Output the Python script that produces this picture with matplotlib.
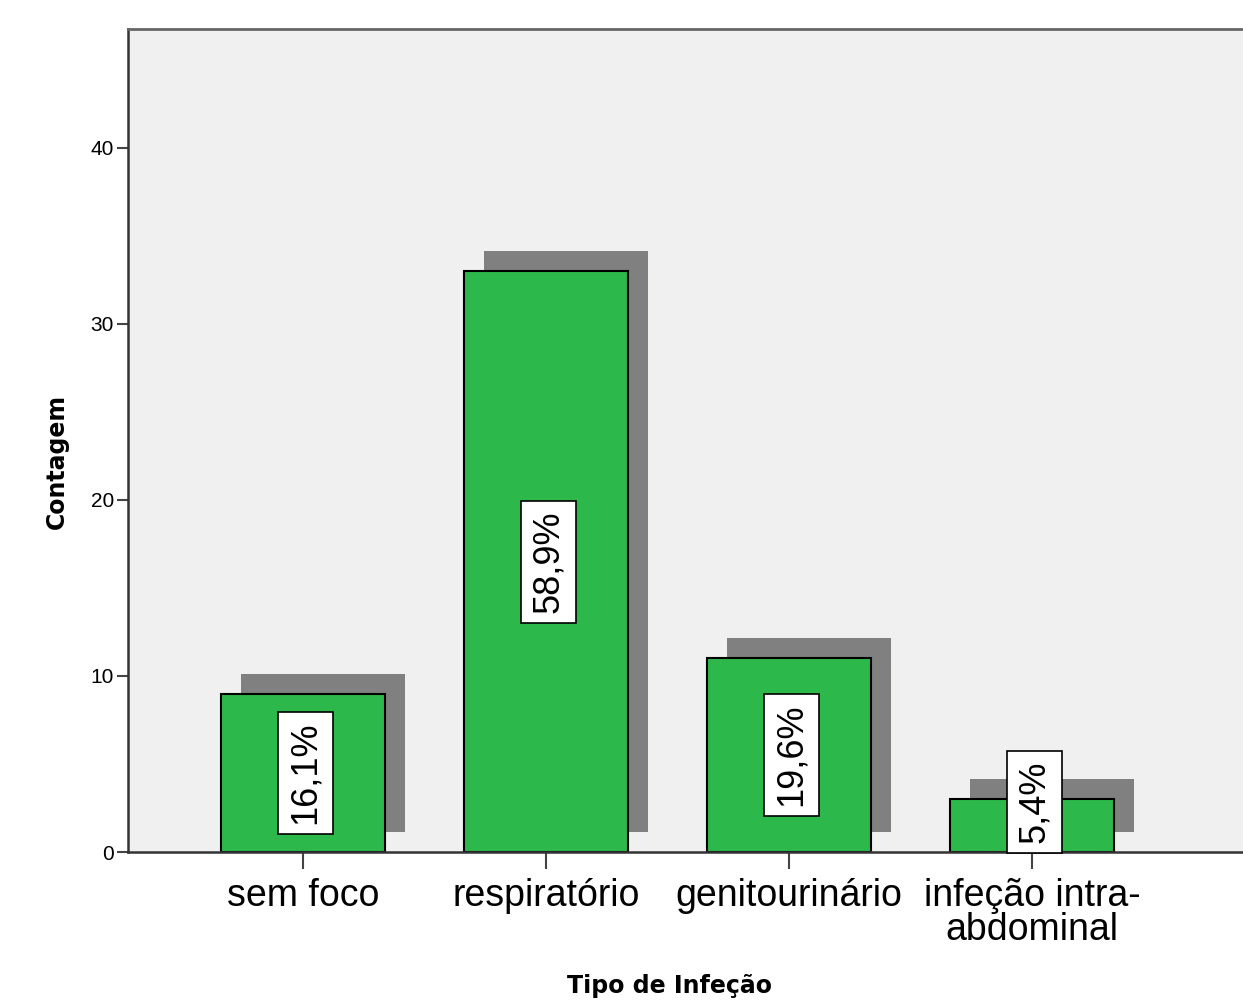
import matplotlib.pyplot as plt
import numpy as np

# dados: tipo de infeção e contagem
categorias = ['sem foco', 'respiratório', 'genitourinário', 'infeção intra-\nabdominal']
contagem = [9, 33, 11, 3]
percentagens = ['16,1%', '58,9%', '19,6%', '5,4%']

verde = '#2db84b'
sombra = '#808080'
fundo = '#f0f0f0'
fonte = 'Liberation Sans'

fig = plt.figure(figsize=(12.43, 10), dpi=100)
ax = fig.add_axes([128 / 1243, 148 / 1000, 1130 / 1243, 823 / 1000])
ax.set_facecolor(fundo)

x = np.arange(len(categorias))
largura = 0.672
dx, dy = 0.0825, 1.14  # deslocamento da sombra

# sombra atrás de cada barra
ax.bar(x + dx, contagem, largura, bottom=dy, color=sombra, zorder=1)
ax.bar(x, contagem, largura, color=verde, edgecolor='black', linewidth=1.5, zorder=2)

# percentagens em caixas brancas, rodadas
for xi, v, p in zip(x, contagem, percentagens):
    if v > 6:
        y, va = v / 2, 'center'
    else:
        y, va = 0.5, 'bottom'
    ax.text(xi + 0.01, y, p, rotation=90, ha='center', va=va, fontsize=26,
            family=fonte, zorder=3,
            bbox=dict(boxstyle='square,pad=0.27', facecolor='white', edgecolor='black', linewidth=1.2))

ax.set_xlim(-0.72, 3.93)
ax.set_ylim(0, 46.76)
ax.set_yticks([0, 10, 20, 30, 40])
ax.set_yticklabels(['0', '10', '20', '30', '40'], fontsize=15, family=fonte)
ax.set_xticks(x)
ax.set_xticklabels(categorias, fontsize=27, family=fonte, linespacing=0.9)
ax.tick_params(axis='y', length=8, width=1.5, color='#444444', pad=2)
ax.tick_params(axis='x', length=12, width=1.5, color='#444444', pad=7)

for lado in ['left', 'bottom']:
    ax.spines[lado].set_linewidth(1.8)
    ax.spines[lado].set_color('#333333')
ax.spines['top'].set_linewidth(2)
ax.spines['top'].set_color('#666666')
ax.spines['right'].set_visible(False)

ax.set_ylabel('Contagem', fontsize=17, fontweight='bold', family='DejaVu Sans', labelpad=16)
ax.set_xlabel('Tipo de Infeção', fontsize=17, fontweight='bold', family='DejaVu Sans', labelpad=19)
ax.xaxis.label.set_x(0.479)
ax.yaxis.label.set_y(0.475)

fig.savefig('out.png', dpi=100, facecolor='white')
